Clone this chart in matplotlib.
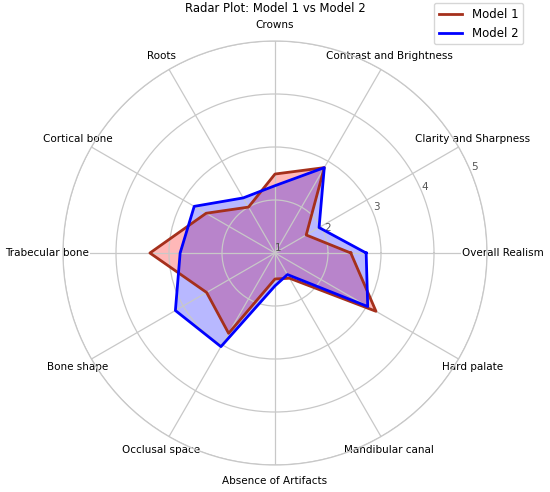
import numpy as np
import matplotlib
matplotlib.use('Agg')
import matplotlib.pyplot as plt

categories = ['Overall Realism', 'Clarity and Sharpness', 'Contrast and Brightness',
              'Crowns', 'Roots', 'Cortical bone', 'Trabecular bone', 'Bone shape',
              'Occlusal space', 'Absence of Artifacts', 'Mandibular canal', 'Hard palate']
model1 = [2.43, 1.68, 2.86, 2.49, 2.0, 2.5, 3.36, 2.49, 2.75, 1.49, 1.55, 3.2]
model2 = [2.72, 1.96, 2.86, 2.27, 2.2, 2.76, 2.79, 3.17, 3.04, 1.62, 1.47, 3.02]
rticks = [1, 2, 3, 4, 5]

n = len(categories)
angles = np.linspace(0, 2 * np.pi, n, endpoint=False).tolist()
angles += angles[:1]
v1 = model1 + model1[:1]
v2 = model2 + model2[:1]

fig = plt.figure(figsize=(5.5, 4.92), dpi=100)
ax = fig.add_axes([63 / 550, 27 / 492, 424 / 550, 424 / 492], polar=True)

c1 = '#a5301c'
c2 = '#0000ff'
ax.plot(angles, v1, color=c1, linewidth=2, label='Model 1')
ax.fill(angles, v1, color='red', alpha=0.28)
ax.plot(angles, v2, color=c2, linewidth=2, label='Model 2')
ax.fill(angles, v2, color='blue', alpha=0.28)

ax.set_ylim(1, 5)
ax.set_yticks(rticks)
ax.set_yticklabels([str(t) for t in rticks], fontsize=7.5, color='#555555')
ax.set_rlabel_position(22.5)
ax.set_xticks(angles[:-1])
ax.set_xticklabels(categories, fontsize=7.5)
ax.tick_params(axis='x', pad=1)
for lab in ax.get_xticklabels():
    lab.set_bbox(dict(facecolor='white', edgecolor='none', pad=0.5))
ax.grid(color='#c8c8c8', linewidth=0.9)
ax.spines['polar'].set_color('#c8c8c8')
ax.spines['polar'].set_linewidth(0.9)

ax.set_title('Radar Plot: Model 1 vs Model 2', fontsize=8.4, y=1.068, pad=0)
ax.legend(loc='upper right', bbox_to_anchor=(1.099, 1.1035), fontsize=8.5)

fig.savefig('out.png', dpi=100)
